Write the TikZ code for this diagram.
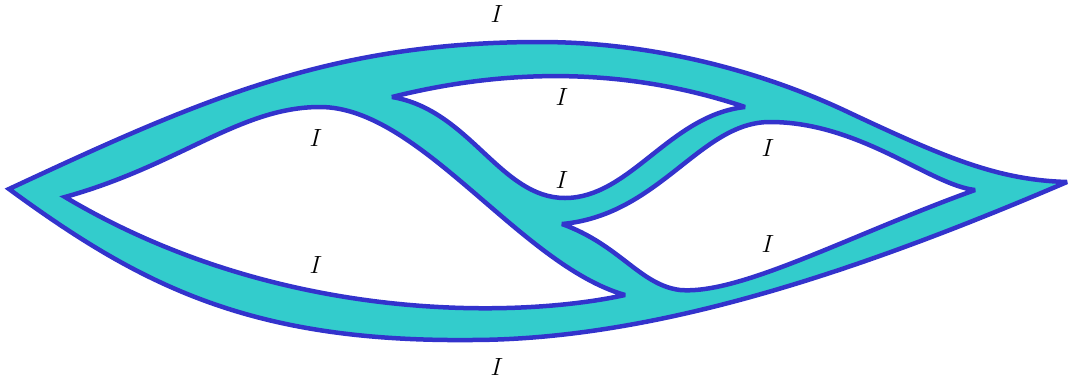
\documentclass[tikz,border=0pt]{standalone}
\definecolor{fillc}{RGB}{51,204,204}
\definecolor{linec}{RGB}{51,51,204}
\tikzset{lab/.style={font=\fontsize{24}{28}\selectfont, inner sep=0pt},
  surface/.style={fill=fillc, draw=linec, line width=4.5pt, even odd rule, line join=miter, miter limit=4}}
\begin{document}
\begin{tikzpicture}[x=1pt,y=-1pt]
\useasboundingbox (0,0) rectangle (1068,381);
\filldraw[surface]
 % outer boundary
 (9,189) .. controls (200,100) and (330,42) .. (540,42)
   .. controls (650,42) and (760,70) .. (850,113)
   .. controls (950,160) and (1000,180) .. (1067,182)
   .. controls (850,275) and (650,340) .. (470,340)
   .. controls (250,342) and (140,285) .. cycle
 % left hole
 (65,197) .. controls (180,165) and (240,107) .. (320,107)
   .. controls (420,107) and (520,265) .. (625,295)
   .. controls (520,318) and (280,325) .. cycle
 % upper middle hole
 (392,97) .. controls (500,70) and (620,65) .. (745,107)
   .. controls (670,115) and (630,198) .. (565,198)
   .. controls (500,198) and (470,110) .. cycle
 % right hole
 (562,224) .. controls (660,215) and (700,122) .. (770,122)
   .. controls (860,122) and (930,185) .. (975,190)
   .. controls (850,235) and (740,295) .. (680,290)
   .. controls (640,285) and (620,245) .. cycle;
\node[lab] (l1) at (497,14) {$I$};
\node[lab] (l2) at (562,97) {$I$};
\node[lab] (l3) at (316,138) {$I$};
\node[lab] (l4) at (562,180) {$I$};
\node[lab] (l5) at (768,148) {$I$};
\node[lab] (l6) at (768,244) {$I$};
\node[lab] (l7) at (316,265) {$I$};
\node[lab] (l8) at (497,367) {$I$};
\end{tikzpicture}
\end{document}
